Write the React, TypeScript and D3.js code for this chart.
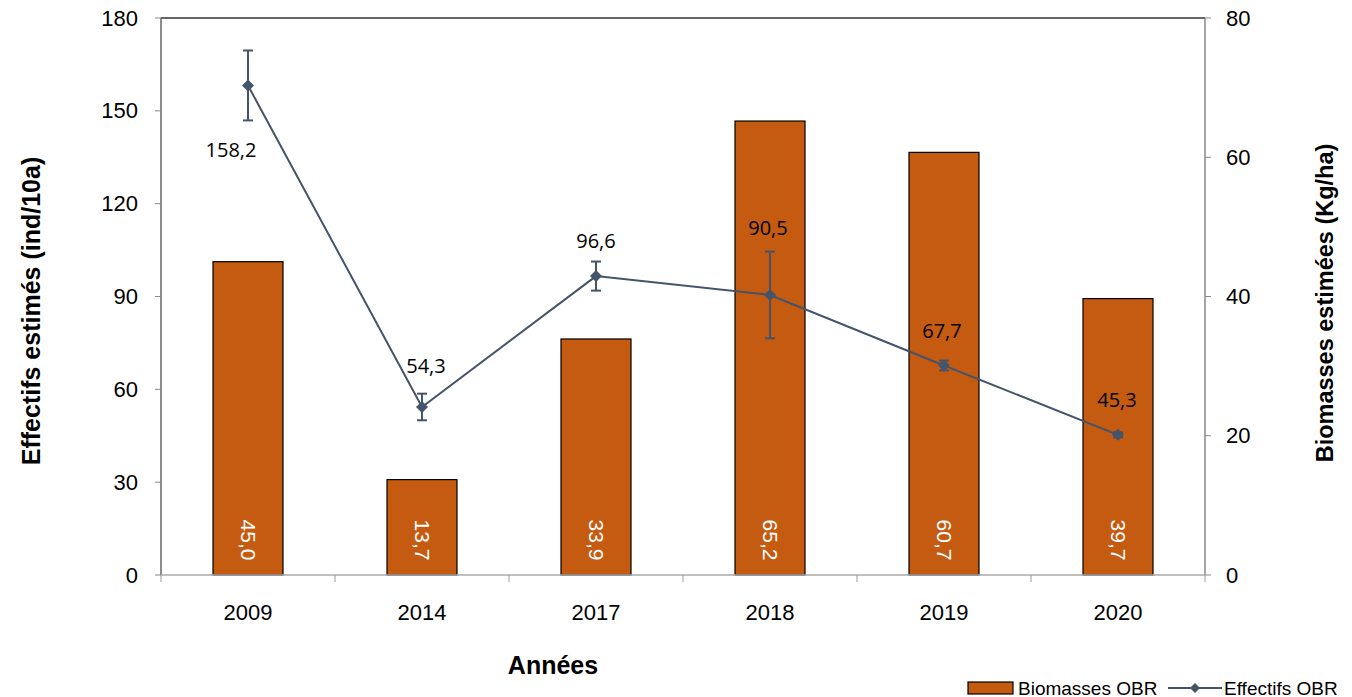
import React from "react";
import * as d3 from "d3";

const years = ["2009", "2014", "2017", "2018", "2019", "2020"];
const biomasses = [45.0, 13.7, 33.9, 65.2, 60.7, 39.7];
const effectifs = [158.2, 54.3, 96.6, 90.5, 67.7, 45.3];
const effectifsErr = [11.3, 4.3, 4.7, 14.0, 1.6, 0.8];
const leftTicks = [0, 30, 60, 90, 120, 150, 180];
const rightTicks = [0, 20, 40, 60, 80];

const W = 1352, H = 697;
const M = { left: 161, right: 1205, top: 18, bottom: 575 };
const BAR = "#C55A11";
const LINE = "#44546A";
const FONT = "'Liberation Sans', Arial, sans-serif";
const fmt = (v: number) => v.toFixed(1).replace(".", ",");

export default function App() {
  const x = d3.scaleBand().domain(years).range([M.left, M.right]).paddingInner(0).paddingOuter(0);
  const yL = d3.scaleLinear().domain([0, 180]).range([M.bottom, M.top]);
  const yR = d3.scaleLinear().domain([0, 80]).range([M.bottom, M.top]);
  const bw = 70;
  const cx = (y: string) => (x(y) as number) + x.bandwidth() / 2;
  const line = d3.line<number>().x((_, i) => cx(years[i])).y((d) => yL(d));
  const labelOffsets: [number, number][] = [
    [-17, 64], [4, -41], [0, -36], [-2, -67], [-2, -35], [-1, -35],
  ];
  return (
    <svg width={W} height={H} style={{ position: "absolute", left: 0, top: 0 }} fontFamily={FONT}>
      <rect x={0} y={0} width={W} height={H} fill="#fff" />
      {years.map((y, i) => (
        <rect key={y} x={cx(y) - bw / 2} y={yR(biomasses[i])} width={bw} height={M.bottom - yR(biomasses[i])}
          fill={BAR} stroke="#000" strokeWidth={1.2} />
      ))}
      {years.map((y, i) => (
        <text key={y} transform={`translate(${cx(y)},${540}) rotate(90)`} textAnchor="middle" dominantBaseline="central"
          fill="#fff" fontSize={21}>{fmt(biomasses[i])}</text>
      ))}
      <line x1={M.left} x2={M.right} y1={M.top} y2={M.top} stroke="#333" strokeWidth={1.5} />
      <line x1={M.left} x2={M.left} y1={M.top} y2={M.bottom} stroke="#666" strokeWidth={1.5} />
      <line x1={M.right} x2={M.right} y1={M.top} y2={M.bottom} stroke="#888" strokeWidth={1.5} />
      <line x1={M.left} x2={M.right} y1={M.bottom} y2={M.bottom} stroke="#aaa" strokeWidth={1.5} />
      {leftTicks.map((t) => (
        <g key={t}>
          <line x1={M.left - 6} x2={M.left} y1={yL(t)} y2={yL(t)} stroke="#888" />
          <text x={M.left - 23} y={yL(t)} textAnchor="end" dominantBaseline="central" fontSize={22} fill="#000">{t}</text>
        </g>
      ))}
      {rightTicks.map((t) => (
        <g key={t}>
          <line x1={M.right} x2={M.right + 6} y1={yR(t)} y2={yR(t)} stroke="#888" />
          <text x={M.right + 21} y={yR(t)} textAnchor="start" dominantBaseline="central" fontSize={22} fill="#000">{t}</text>
        </g>
      ))}
      {[...years.map((y) => x(y) as number), M.right].map((v, i) => (
        <line key={i} x1={v} x2={v} y1={M.bottom} y2={M.bottom + 7} stroke="#aaa" strokeWidth={1.2} />
      ))}
      {years.map((y) => (
        <text key={y} x={cx(y)} y={612} textAnchor="middle" dominantBaseline="central" fontSize={22} fill="#000">{y}</text>
      ))}
      <text transform={`translate(31,311) rotate(-90)`} textAnchor="middle" dominantBaseline="central" fontSize={25} fontWeight="bold">Effectifs estimés (ind/10a)</text>
      <text transform={`translate(1325,303) rotate(-90)`} textAnchor="middle" dominantBaseline="central" fontSize={23.5} fontWeight="bold">Biomasses estimées (Kg/ha)</text>
      <text x={553} y={665} textAnchor="middle" dominantBaseline="central" fontSize={25} fontWeight="bold">Années</text>
      <path d={line(effectifs) || ""} fill="none" stroke={LINE} strokeWidth={2} />
      {years.map((y, i) => {
        const c = cx(y);
        const t = yL(effectifs[i] + effectifsErr[i]);
        const b = yL(effectifs[i] - effectifsErr[i]);
        return (
          <g key={y} stroke={LINE} strokeWidth={2}>
            <line x1={c} x2={c} y1={t} y2={b} />
            <line x1={c - 5} x2={c + 5} y1={t} y2={t} />
            <line x1={c - 5} x2={c + 5} y1={b} y2={b} />
          </g>
        );
      })}
      {years.map((y, i) => {
        const c = cx(y), v = yL(effectifs[i]);
        return <path key={y} d={`M${c},${v - 6}L${c + 6},${v}L${c},${v + 6}L${c - 6},${v}Z`} fill={LINE} />;
      })}
      {years.map((y, i) => (
        <text key={y} x={cx(y) + labelOffsets[i][0]} y={yL(effectifs[i]) + labelOffsets[i][1]} textAnchor="middle"
          dominantBaseline="central" fontSize={20} fontFamily="'Open Sans', 'Noto Sans', sans-serif" fill="#000">{fmt(effectifs[i])}</text>
      ))}
      <rect x={968} y={682} width={45} height={12} fill={BAR} stroke="#000" strokeWidth={1.2} />
      <text x={1018} y={688} dominantBaseline="central" fontSize={19} fill="#000">Biomasses OBR</text>
      <line x1={1168} x2={1222} y1={688} y2={688} stroke={LINE} strokeWidth={2} />
      <path d={`M1195,683L1200,688L1195,693L1190,688Z`} fill={LINE} />
      <text x={1224} y={688} dominantBaseline="central" fontSize={19} fill="#000">Effectifs OBR</text>
    </svg>
  );
}
